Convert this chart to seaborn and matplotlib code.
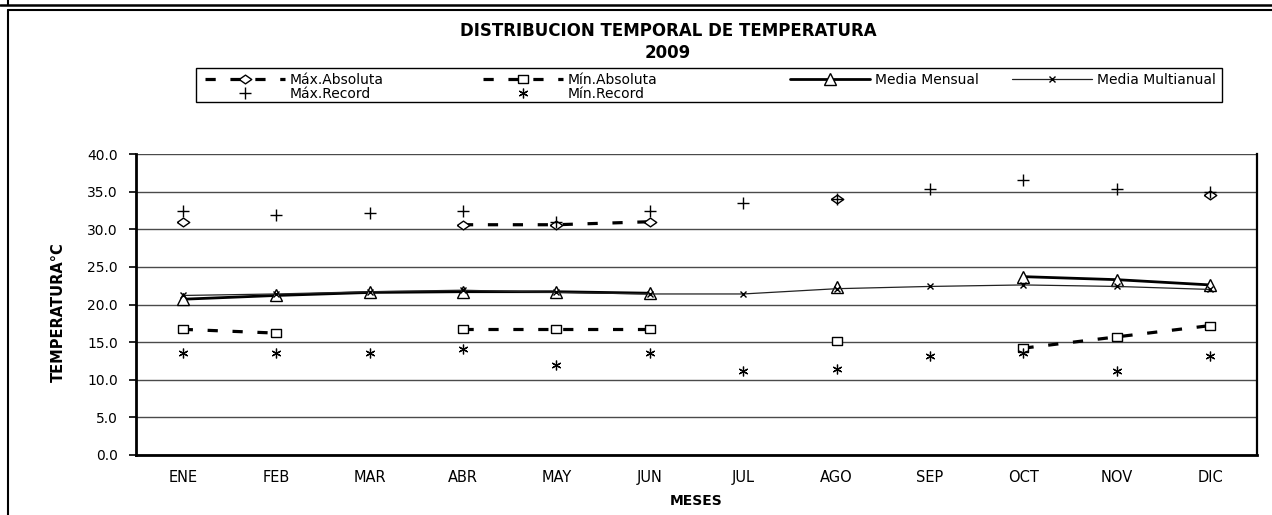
import numpy as np
import pandas as pd
import matplotlib
matplotlib.use("Agg")
import matplotlib.pyplot as plt
from matplotlib.lines import Line2D
from matplotlib.patches import Rectangle
import seaborn as sns

# --- data ---
meses = ["ENE", "FEB", "MAR", "ABR", "MAY", "JUN", "JUL", "AGO", "SEP", "OCT", "NOV", "DIC"]
max_absoluta = [31.0, np.nan, np.nan, 30.6, 30.6, 31.0, np.nan, 34.0, np.nan, np.nan, np.nan, 34.5]
min_absoluta = [16.7, 16.2, np.nan, 16.7, 16.7, 16.7, np.nan, 15.1, np.nan, 14.2, 15.7, 17.2]
media_mensual = [20.7, 21.2, 21.6, 21.7, 21.7, 21.5, np.nan, 22.3, np.nan, 23.7, 23.3, 22.6]
media_multianual = [21.2, 21.4, 21.7, 21.9, 21.6, 21.4, 21.4, 22.1, 22.4, 22.6, 22.4, 22.0]
max_record = [32.4, 31.9, 32.2, 32.4, 31.0, 32.4, 33.5, 34.0, 35.4, 36.5, 35.4, 35.0]
min_record = [13.6, 13.6, 13.6, 14.1, 11.9, 13.6, 11.1, 11.4, 13.1, 13.6, 11.1, 13.1]

series = {
    "Máx.Absoluta": max_absoluta,
    "Mín.Absoluta": min_absoluta,
    "Media Mensual": media_mensual,
    "Media Multianual": media_multianual,
    "Máx.Record": max_record,
    "Mín.Record": min_record,
}

# long table; "seg" splits each series at missing months so lines break there
rows = []
for name, vals in series.items():
    seg = 0
    for i, v in enumerate(vals):
        if np.isnan(v):
            seg += 1
            continue
        rows.append({"pos": i, "valor": v, "serie": name, "seg": seg})
df = pd.DataFrame(rows)

# marker shapes (Excel style, a bit wider than tall like the stretched original)
diamond = [(-1, 0), (0, 0.7), (1, 0), (0, -0.7), (-1, 0)]
rect = [(-1, -0.75), (1, -0.75), (1, 0.75), (-1, 0.75), (-1, -0.75)]
dash = (0, (3.2, 4.6))

styles = {
    "Máx.Absoluta": dict(color="black", lw=2.3, linestyle=dash, marker=diamond, ms=9,
                         mfc="white", mec="black", mew=1.0),
    "Mín.Absoluta": dict(color="black", lw=2.3, linestyle=dash, marker=rect, ms=7,
                         mfc="white", mec="black", mew=1.0),
    "Media Mensual": dict(color="black", lw=2.0, linestyle="-", marker="^", ms=8,
                          mfc="white", mec="black", mew=1.0),
    "Media Multianual": dict(color="#222222", lw=0.9, linestyle="-", marker="x", ms=5,
                             mec="black", mew=1.0),
    "Máx.Record": dict(color="black", lw=0, linestyle="none", marker="+", ms=8,
                       mec="black", mew=1.0),
    "Mín.Record": dict(color="black", lw=0, linestyle="none", marker=(6, 2, 0), ms=7,
                       mec="black", mew=0.9),
}

sns.set_theme(style="white")
plt.rcParams["font.family"] = ["DejaVu Sans"]
plt.rcParams.update({"text.color": "black", "axes.labelcolor": "black",
                     "xtick.color": "black", "ytick.color": "black"})

W, H = 1272, 515
fig = plt.figure(figsize=(W / 100, H / 100), dpi=100)
ax = fig.add_axes([136 / W, 1 - 455 / H, 1121 / W, 301 / H])

for name in series:
    sub = df[df["serie"] == name]
    st = styles[name]
    sns.lineplot(data=sub, x="pos", y="valor", units="seg", estimator=None,
                 ax=ax, color=st["color"], lw=st["lw"], linestyle=st["linestyle"],
                 marker=st["marker"], markersize=st["ms"], markerfacecolor=st.get("mfc", "none"),
                 markeredgecolor=st["mec"], markeredgewidth=st["mew"], zorder=3)

ax.set_xlim(-0.5, len(meses) - 0.5)
ax.set_ylim(0, 40)
yt = np.arange(0, 41, 5)
ax.set_yticks(yt)
ax.set_yticklabels([f"{v:.1f}" for v in yt], fontsize=10)
ax.set_xticks(np.arange(len(meses)))
ax.set_xticklabels(meses, fontsize=10.5)
ax.set_xticks(np.arange(len(meses) + 1) - 0.5, minor=True)
ax.tick_params(axis="x", which="major", length=0, pad=11)
ax.tick_params(axis="x", which="minor", length=5, width=1.2, color="black", direction="out")
ax.tick_params(axis="y", length=5, width=1.2, color="black", direction="out", pad=8, left=True)
ax.grid(axis="y", color="#4a4a4a", lw=1.0)
ax.grid(axis="x", visible=False)
ax.set_axisbelow(True)
for side in ["left", "bottom"]:
    ax.spines[side].set_color("black")
    ax.spines[side].set_linewidth(2.0)
ax.spines["right"].set_color("black")
ax.spines["right"].set_linewidth(1.6)
ax.spines["top"].set_visible(False)

ax.set_xlabel("MESES", fontsize=10, fontweight="bold", labelpad=6)
ax.set_ylabel("")
fig.text(58 / W, 1 - 312 / H, "TEMPERATURA°C", rotation=90, fontsize=10.5,
         fontweight="bold", ha="center", va="center")

fig.text(668 / W, 1 - 31 / H, "DISTRIBUCION TEMPORAL DE TEMPERATURA", fontsize=12,
         fontweight="bold", ha="center", va="center")
fig.text(668 / W, 1 - 53 / H, "2009", fontsize=12, fontweight="bold", ha="center", va="center")

# legend: Excel lays entries out in a fixed grid, so place one entry per cell
leg_cells = {
    "Máx.Absoluta": (205, 80), "Mín.Absoluta": (483, 80),
    "Media Mensual": (790, 80), "Media Multianual": (1012, 80),
    "Máx.Record": (205, 94), "Mín.Record": (483, 94),
}
for name, (lx, ly) in leg_cells.items():
    st = styles[name]
    h = Line2D([], [], color=st["color"], lw=st["lw"], linestyle=st["linestyle"],
               marker=st["marker"], markersize=st["ms"],
               markerfacecolor=st.get("mfc", "none"), markeredgecolor=st["mec"],
               markeredgewidth=st["mew"])
    fig.legend([h], [name], loc="center left", bbox_to_anchor=(lx / W, 1 - ly / H),
               fontsize=10, frameon=False, handlelength=5.75, handletextpad=0.35,
               borderpad=0, borderaxespad=0)
fig.add_artist(Rectangle((196 / W, 1 - 102 / H), (1222 - 196) / W, 34 / H,
                         transform=fig.transFigure, fill=False, ec="black", lw=1.0))

# outer frame of the report box
fig.add_artist(Line2D([0, 1], [1 - 5 / H, 1 - 5 / H], color="black", lw=1.8))
fig.add_artist(Line2D([8 / W, 8 / W], [1 - 5 / H, 1], color="black", lw=1.5))
fig.add_artist(Line2D([8 / W, 1], [1 - 9.5 / H, 1 - 9.5 / H], color="black", lw=1.5))
fig.add_artist(Line2D([8 / W, 8 / W], [0, 1 - 9.5 / H], color="black", lw=1.5))

fig.savefig("out.png", dpi=100)
